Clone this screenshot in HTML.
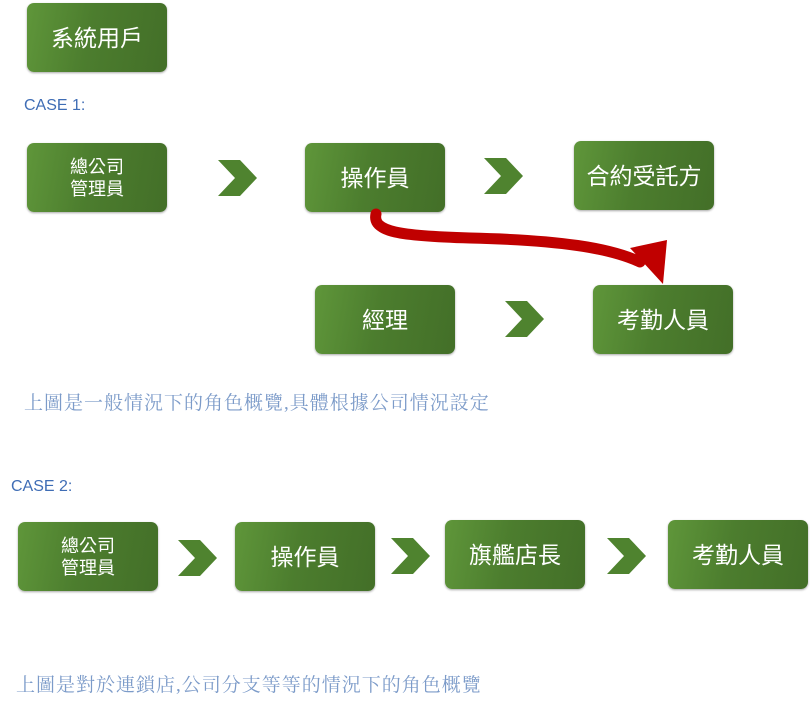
<!DOCTYPE html>
<html><head><meta charset="utf-8"><style>
body{margin:0;width:810px;height:703px;background:#fff;position:relative;overflow:hidden;font-family:"Liberation Sans","Noto Sans CJK TC",sans-serif}
.b{position:absolute;width:140px;height:69px;border-radius:7px;background:linear-gradient(100deg,#5f963a 0%,#4c7d2e 45%,#436f28 100%);box-shadow:0 1px 2px rgba(0,0,0,.35);color:#fff;display:flex;align-items:center;justify-content:center;text-align:center;font-size:23px;line-height:24px}
.b.s{font-size:18px;line-height:22px}
.c{position:absolute;width:39px;height:36px}
.t{position:absolute;color:#3f6db5;font-size:16px}
.cap{position:absolute;color:#7c9bc9;font-family:"Liberation Serif","Noto Serif CJK SC",serif;font-size:19px;letter-spacing:1px}
</style></head><body>
<div class="b" style="left:27px;top:3px">系統用戶</div>
<div class="t" style="left:24px;top:97px">CASE 1:</div>
<div class="b s" style="left:27px;top:143px">總公司<br>管理員</div>
<svg class="c" style="left:218px;top:160px" viewBox="0 0 39 36"><polygon points="0,0 22,0 39,18 22,36 0,36 17,18" fill="#4f832f"/></svg>
<div class="b" style="left:305px;top:143px">操作員</div>
<svg class="c" style="left:484px;top:158px" viewBox="0 0 39 36"><polygon points="0,0 22,0 39,18 22,36 0,36 17,18" fill="#4f832f"/></svg>
<div class="b" style="left:574px;top:141px">合約受託方</div>
<div class="b" style="left:315px;top:285px">經理</div>
<svg class="c" style="left:505px;top:301px" viewBox="0 0 39 36"><polygon points="0,0 22,0 39,18 22,36 0,36 17,18" fill="#4f832f"/></svg>
<div class="b" style="left:593px;top:285px">考勤人員</div>
<svg style="position:absolute;left:0;top:0" width="810" height="703">
<path d="M376,214 C372,232 400,236 470,238 C560,240 610,248 640,262" fill="none" stroke="#c00000" stroke-width="11" stroke-linecap="round"/>
<polygon points="630,248 667,240 663,284" fill="#c00000"/>
</svg>
<div class="cap" style="left:24px;top:388px">上圖是一般情況下的角色概覽,具體根據公司情況設定</div>
<div class="t" style="left:11px;top:478px">CASE 2:</div>
<div class="b s" style="left:18px;top:522px">總公司<br>管理員</div>
<svg class="c" style="left:178px;top:540px" viewBox="0 0 39 36"><polygon points="0,0 22,0 39,18 22,36 0,36 17,18" fill="#4f832f"/></svg>
<div class="b" style="left:235px;top:522px">操作員</div>
<svg class="c" style="left:391px;top:538px" viewBox="0 0 39 36"><polygon points="0,0 22,0 39,18 22,36 0,36 17,18" fill="#4f832f"/></svg>
<div class="b" style="left:445px;top:520px">旗艦店長</div>
<svg class="c" style="left:607px;top:538px" viewBox="0 0 39 36"><polygon points="0,0 22,0 39,18 22,36 0,36 17,18" fill="#4f832f"/></svg>
<div class="b" style="left:668px;top:520px">考勤人員</div>
<div class="cap" style="left:16px;top:670px">上圖是對於連鎖店,公司分支等等的情況下的角色概覽</div>
</body></html>
